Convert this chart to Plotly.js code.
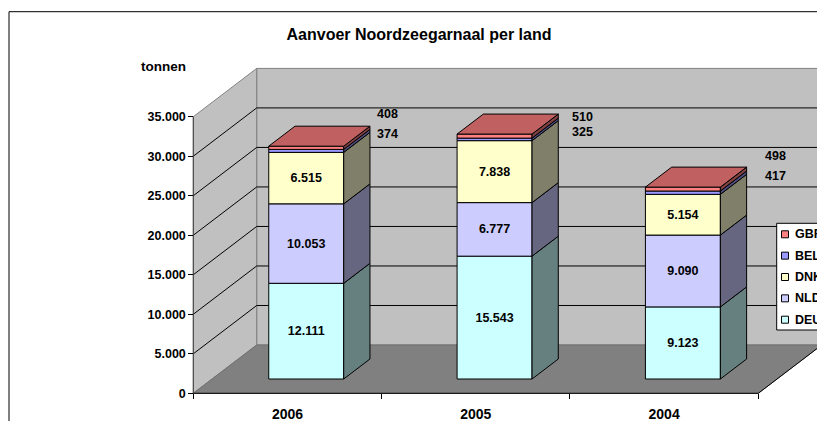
<!DOCTYPE html>
<html>
<head>
<meta charset="utf-8">
<script src="https://cdn.plot.ly/plotly-3.0.1.min.js"></script>
<style>html,body{margin:0;padding:0;background:#fff;}#chart{width:817px;height:421px;}</style>
</head>
<body>
<div id="chart"></div>
<script>
// ---- data ----
const years = ['2006', '2005', '2004'];
const seriesNames = ['DEU', 'NLD', 'DNK', 'BEL', 'GBR'];
const DEU = [12111, 15543, 9123];
const NLD = [10053, 6777, 9090];
const DNK = [6515, 7838, 5154];
const BEL = [374, 325, 417];
const GBR = [408, 510, 498];
const yTicks = [0, 5000, 10000, 15000, 20000, 25000, 30000, 35000];
const gridVals = [5000, 10000, 15000, 20000, 25000, 30000];

// ---- styles / geometry ----
const series = [DEU, NLD, DNK, BEL, GBR];
const frontCol = ['#CCFFFF', '#CCCCFF', '#FFFFCC', '#9999FF', '#FF8080'];
const sideCol = ['#668080', '#666680', '#80806A', '#4D4D80', '#804040'];
const topCol = '#C06060';
const inside = [true, true, true, false, false];
const FONT = 'Liberation Sans, Arial, sans-serif';

const ML = 180, MT = 60, MB = 20, W = 817, H = 421;
const PW = W - ML, PH = H - MT - MB;
const PX_CAT = 188.33, PX_UNIT = 0.0079029;
const AXIS_X = 193.3, AXIS_Y = 393.3;
const X0 = -0.5 - (AXIS_X - ML) / PX_CAT;
const X1 = X0 + PW / PX_CAT;
const Y0 = -((H - MB) - AXIS_Y) / PX_UNIT;
const Y1 = Y0 + PH / PX_UNIT;
const DX = 63.4 / PX_CAT, DY = 48.3 / PX_UNIT;
const D1 = 0.296, D2 = 0.71, HALF = 0.199;
const YMAX = yTicks[yTicks.length - 1];
const XL = -0.5, XR = years.length - 0.5;

const fmt = v => String(v).replace(/\B(?=(\d{3})+(?!\d))/g, '.');
const px2pX = px => (px - ML) / PW;
const px2pY = py => ((H - MB) - py) / PH;

const traces = [];
const cum = years.map(() => 0);
series.forEach((vals, k) => {
  const base = vals.map((v, i) => cum[i] + D1 * DY);
  traces.push({
    type: 'bar', x: years.map((y, i) => i + D1 * DX), y: vals, base: base,
    width: 2 * HALF, marker: {color: frontCol[k], line: {color: '#000', width: 1}},
    text: vals.map(v => inside[k] ? fmt(v) : ''), textposition: 'inside',
    insidetextanchor: 'middle', textangle: 0, constraintext: 'none',
    textfont: {family: FONT, size: 12.5, color: '#000', weight: 'bold'},
    showlegend: false, hoverinfo: 'skip', name: seriesNames[k]
  });
  // side faces
  const sx = [], sy = [];
  vals.forEach((v, i) => {
    const xr = i + HALF + D1 * DX, yb = cum[i] + D1 * DY, yt = yb + v;
    const ddx = (D2 - D1) * DX, ddy = (D2 - D1) * DY;
    sx.push(xr, xr + ddx, xr + ddx, xr, xr, null);
    sy.push(yb, yb + ddy, yt + ddy, yt, yb, null);
  });
  traces.push({type: 'scatter', mode: 'lines', x: sx, y: sy, fill: 'toself',
    fillcolor: sideCol[k], line: {color: '#000', width: 1}, showlegend: false, hoverinfo: 'skip'});
  vals.forEach((v, i) => cum[i] += v);
});
// top faces
{
  const tx = [], ty = [];
  cum.forEach((tot, i) => {
    const xl = i - HALF + D1 * DX, xr = i + HALF + D1 * DX, t = tot + D1 * DY;
    const ddx = (D2 - D1) * DX, ddy = (D2 - D1) * DY;
    tx.push(xl, xr, xr + ddx, xl + ddx, xl, null);
    ty.push(t, t, t + ddy, t + ddy, t, null);
  });
  traces.push({type: 'scatter', mode: 'lines', x: tx, y: ty, fill: 'toself',
    fillcolor: topCol, line: {color: '#000', width: 1}, showlegend: false, hoverinfo: 'skip'});
}

// ---- walls / floor / gridlines ----
const shapes = [];
const P = pts => 'M' + pts.map(p => p[0] + ',' + p[1]).join('L') + 'Z';
shapes.push({type: 'rect', xref: 'x', yref: 'y', layer: 'below', x0: XL + DX, x1: X1 + 1, y0: DY, y1: YMAX + DY,
  fillcolor: '#C0C0C0', line: {color: '#808080', width: 1}});
shapes.push({type: 'path', xref: 'x', yref: 'y', layer: 'below',
  path: P([[XL, 0], [XL + DX, DY], [XL + DX, YMAX + DY], [XL, YMAX]]),
  fillcolor: '#C0C0C0', line: {color: '#808080', width: 1}});
shapes.push({type: 'path', xref: 'x', yref: 'y', layer: 'below',
  path: P([[XL, 0], [XR, 0], [XR + DX, DY], [XL + DX, DY]]),
  fillcolor: '#808080', line: {color: '#707070', width: 1}});
gridVals.forEach(v => shapes.push({type: 'path', xref: 'x', yref: 'y', layer: 'below',
  path: 'M' + XL + ',' + v + 'L' + (XL + DX) + ',' + (v + DY) + 'L' + (X1 + 1) + ',' + (v + DY),
  line: {color: '#000', width: 1}}));
shapes.push({type: 'line', xref: 'x', yref: 'y', layer: 'below', x0: XL, x1: XL, y0: 0, y1: YMAX, line: {color: '#404040', width: 1}});
shapes.push({type: 'line', xref: 'x', yref: 'y', layer: 'below', x0: XL, x1: XR, y0: 0, y1: 0, line: {color: '#000', width: 1}});
shapes.push({type: 'line', xref: 'x', yref: 'y', layer: 'below', x0: XR, x1: XR + DX, y0: 0, y1: DY, line: {color: '#000', width: 1}});
// outer chart border
shapes.push({type: 'rect', xref: 'paper', yref: 'paper', x0: px2pX(9), x1: px2pX(900), y0: px2pY(500), y1: px2pY(11.7),
  line: {color: '#000', width: 1}, fillcolor: 'rgba(0,0,0,0)'});

// ---- legend (manual, cut off at right edge like the reference) ----
const annotations = [];
shapes.push({type: 'rect', xref: 'paper', yref: 'paper', x0: px2pX(776.7), x1: px2pX(900), y0: px2pY(330), y1: px2pY(223.3),
  line: {color: '#000', width: 1}, fillcolor: '#fff'});
const legOrder = [4, 3, 2, 1, 0];
legOrder.forEach((k, j) => {
  const cy = 234.3 + j * 21.35;
  shapes.push({type: 'rect', xref: 'paper', yref: 'paper', x0: px2pX(781.5), x1: px2pX(788.5), y0: px2pY(cy + 3.5), y1: px2pY(cy - 3.5),
    fillcolor: frontCol[k], line: {color: '#000', width: 1}});
  annotations.push({xref: 'paper', yref: 'paper', x: px2pX(793), y: px2pY(cy), xanchor: 'left', yanchor: 'middle',
    text: seriesNames[k], showarrow: false, font: {family: FONT, size: 12.5, color: '#000', weight: 'bold'}});
});

// ---- outside labels for BEL / GBR ----
const outShift = [[[5.5, 11.9], [5.5, -8.1]], [[11.5, -3.2], [11.5, -18.2]], [[16.5, 11.4], [16.5, -8.6]]];
cum.forEach((tot, i) => {
  const xc = i + HALF + D2 * DX, yc = tot + D2 * DY;
  [[GBR[i], 0], [BEL[i], 1]].forEach(([v, j]) => {
    annotations.push({xref: 'x', yref: 'y', x: xc, y: yc, xanchor: 'left', yanchor: 'middle',
      xshift: outShift[i][j][0], yshift: outShift[i][j][1], text: fmt(v), showarrow: false,
      font: {family: FONT, size: 12.5, color: '#000', weight: 'bold'}});
  });
});
annotations.push({xref: 'paper', yref: 'paper', x: px2pX(163.3), y: px2pY(66), xanchor: 'center', yanchor: 'middle',
  text: 'tonnen', showarrow: false, font: {family: FONT, size: 13.5, color: '#000', weight: 'bold'}});

const layout = {
  width: W, height: H,
  margin: {l: ML, r: 0, t: MT, b: MB, pad: 0, autoexpand: false},
  paper_bgcolor: '#fff', plot_bgcolor: 'rgba(0,0,0,0)',
  barmode: 'overlay', showlegend: false, hovermode: false,
  title: {text: 'Aanvoer Noordzeegarnaal per land', x: 419 / W, xanchor: 'center', y: 1 - 34 / H, yanchor: 'middle',
    font: {family: FONT, size: 16, color: '#000', weight: 'bold'}},
  xaxis: {range: [X0, X1], anchor: 'free', position: (H - MB - AXIS_Y) / PH,
    tickmode: 'array', tickvals: years.map((y, i) => i), ticktext: years, ticks: '',
    showgrid: false, zeroline: false, showline: false, ticklabelstandoff: 11,
    tickfont: {family: FONT, size: 14, color: '#000', weight: 'bold'},
    minor: {tickmode: 'array', tickvals: years.map((y, i) => i - 0.5).concat([XR]), ticks: 'outside', ticklen: 5, tickcolor: '#000', tickwidth: 1, showgrid: false},
    fixedrange: true},
  yaxis: {range: [Y0, Y1], anchor: 'free', position: (AXIS_X - ML) / PW,
    tickmode: 'array', tickvals: yTicks, ticktext: yTicks.map(fmt), ticks: 'outside', ticklen: 5, tickcolor: '#000', tickwidth: 1,
    showgrid: false, zeroline: false, showline: false,
    tickfont: {family: FONT, size: 12.5, color: '#000', weight: 'bold'}, fixedrange: true},
  shapes: shapes, annotations: annotations
};
Plotly.newPlot('chart', traces, layout, {staticPlot: true, displayModeBar: false});
</script>
</body>
</html>
